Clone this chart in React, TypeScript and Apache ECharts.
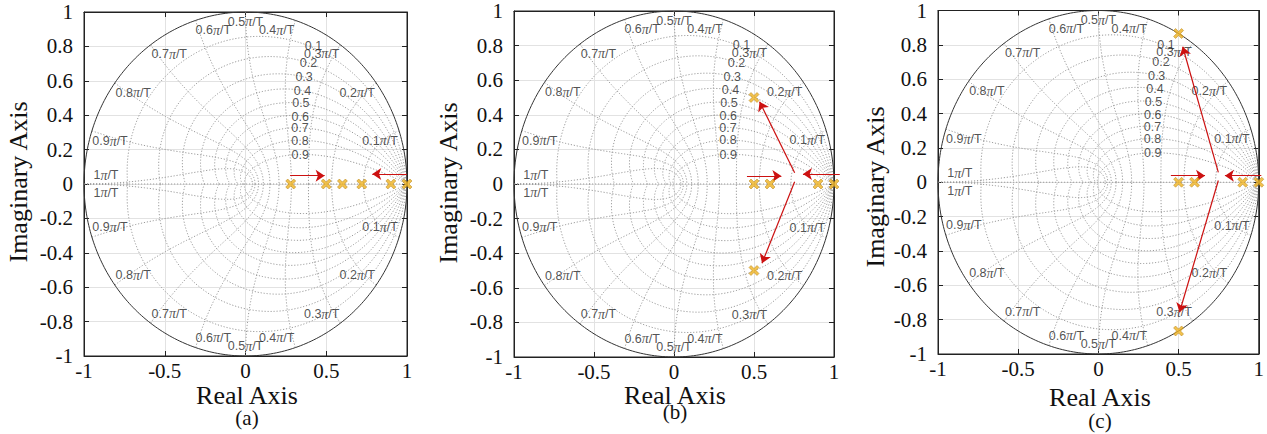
import React, { useEffect, useRef } from "react";
import * as echarts from "echarts";

// ---- axis ticks ----
const xTickInterval = 0.5;
const yTickInterval = 0.2;

// ---- z-plane grid (zgrid) definitions ----
const dampingRatios = [0.1, 0.2, 0.3, 0.4, 0.5, 0.6, 0.7, 0.8, 0.9];
const dampLabelX = [0.364, 0.333, 0.306, 0.296, 0.286, 0.282, 0.28, 0.28, 0.282];
const dampLabelY = [0.802, 0.702, 0.62, 0.542, 0.469, 0.391, 0.324, 0.252, 0.169];

const natFreqs = [0.1, 0.2, 0.3, 0.4, 0.5, 0.6, 0.7, 0.8, 0.9, 1];
const freqLabelText = ["0.1", "0.2", "0.3", "0.4", "0.5", "0.6", "0.7", "0.8", "0.9", "1"];
const freqLabelX = [0.833, 0.692, 0.472, 0.193, 0.0, -0.199, -0.472, -0.695, -0.839, -0.864];
const freqLabelY = [0.252, 0.531, 0.756, 0.895, 0.944, 0.895, 0.754, 0.531, 0.25, 0.052];

// ---- poles (a), (b), (c) ----
const polesAX = [0.28, 0.5, 0.6, 0.72, 0.9, 1.0];
const polesAY = [0, 0, 0, 0, 0, 0];
const polesBX = [0.5, 0.5, 0.5, 0.6, 0.9, 1.0];
const polesBY = [0.5, -0.5, 0, 0, 0, 0];
const polesCX = [0.5, 0.5, 0.5, 0.6, 0.9, 1.0];
const polesCY = [0.866, -0.866, 0, 0, 0, 0];

// ---- arrows [x1, y1, x2, y2] ----
const arrowsA = [
  [0.276, 0.048, 0.49, 0.048],
  [1.0, 0.058, 0.785, 0.058],
];
const arrowsB = [
  [0.456, 0.046, 0.671, 0.046],
  [1.036, 0.058, 0.806, 0.058],
  [0.754, 0.065, 0.535, 0.476],
  [0.754, 0.013, 0.55, -0.458],
];
const arrowsC = [
  [0.452, 0.038, 0.665, 0.038],
  [1.016, 0.038, 0.789, 0.038],
  [0.748, 0.057, 0.526, 0.789],
  [0.748, 0.01, 0.506, -0.757],
];

const panelLabels = ["(a)", "(b)", "(c)"];

const SERIF = "Liberation Serif";
const SANS = "Liberation Sans";

const boxes = [
  { left: 84, top: 12, width: 323, height: 344 },
  { left: 514, top: 11, width: 320, height: 346 },
  { left: 938, top: 6, width: 323, height: 348 },
];
const titlePos = [
  { ix: 18, iy: 182, rx: 247, ry: 395, px: 247, py: 418 },
  { ix: 448, iy: 183, rx: 675, ry: 395, px: 675, py: 412 },
  { ix: 875, iy: 187, rx: 1100, ry: 397, px: 1100, py: 421 },
];

function zgridCurves() {
  const curves: number[][][] = [];
  dampingRatios.forEach((z) => {
    const m = z / Math.sqrt(1 - z * z);
    [1, -1].forEach((sgn) => {
      const pts: number[][] = [];
      const N = 240;
      for (let i = 0; i <= N; i++) {
        const phi = (Math.PI * i) / N;
        const r = Math.exp(-m * phi);
        pts.push([r * Math.cos(phi), sgn * r * Math.sin(phi)]);
      }
      curves.push(pts);
    });
  });
  natFreqs.forEach((k) => {
    [1, -1].forEach((sgn) => {
      const pts: number[][] = [];
      const N = 120;
      for (let i = 0; i <= N; i++) {
        const z = i / N;
        const r = Math.exp(-z * k * Math.PI);
        const th = k * Math.PI * Math.sqrt(1 - z * z);
        pts.push([r * Math.cos(th), sgn * r * Math.sin(th)]);
      }
      curves.push(pts);
    });
  });
  curves.push([[-1, 0], [1, 0]]);
  return curves;
}

function unitCircle() {
  const pts: number[][] = [];
  const N = 360;
  for (let i = 0; i <= N; i++) {
    const a = (2 * Math.PI * i) / N;
    pts.push([Math.cos(a), Math.sin(a)]);
  }
  return pts;
}

const xPath = "path://M0,2 L2,0 L5,3 L8,0 L10,2 L7,5 L10,8 L8,10 L5,7 L2,10 L0,8 L3,5 Z";

export default function App() {
  const ref = useRef<HTMLDivElement>(null);
  useEffect(() => {
    if (!ref.current) return;
    const chart = echarts.init(ref.current, undefined, { renderer: "svg" });
    const polesX = [polesAX, polesBX, polesCX];
    const polesY = [polesAY, polesBY, polesCY];
    const arrows = [arrowsA, arrowsB, arrowsC];
    const grid: any[] = [];
    const xAxis: any[] = [];
    const yAxis: any[] = [];
    const series: any[] = [];
    const graphic: any[] = [];
    const curves = zgridCurves();
    const circle = unitCircle();

    boxes.forEach((b, i) => {
      grid.push({ ...b, show: true, borderColor: "#222", borderWidth: 1, backgroundColor: "#fff" });
      const tickStyle = { inside: true, length: 5, lineStyle: { color: "#222" } };
      xAxis.push({
        gridIndex: i, type: "value", min: -1, max: 1, interval: xTickInterval, position: "bottom",
        axisLine: { show: true, onZero: false, lineStyle: { color: "#222" } },
        axisTick: tickStyle,
        axisLabel: { fontFamily: SERIF, fontSize: 21, color: "#111", margin: 4, formatter: (v: number) => String(+v.toFixed(1)) },
        splitLine: { show: true, lineStyle: { color: "#e2e2e2", width: 1 } },
      });
      xAxis.push({
        gridIndex: i, type: "value", min: -1, max: 1, interval: xTickInterval, position: "top",
        axisLine: { show: true, onZero: false, lineStyle: { color: "#222" } },
        axisTick: tickStyle, axisLabel: { show: false }, splitLine: { show: false },
      });
      yAxis.push({
        gridIndex: i, type: "value", min: -1, max: 1, interval: yTickInterval, position: "left",
        axisLine: { show: true, onZero: false, lineStyle: { color: "#222" } },
        axisTick: tickStyle,
        axisLabel: { fontFamily: SERIF, fontSize: 21, color: "#111", margin: 11, formatter: (v: number) => String(+v.toFixed(1)) },
        splitLine: { show: true, lineStyle: { color: "#e2e2e2", width: 1 } },
      });
      yAxis.push({
        gridIndex: i, type: "value", min: -1, max: 1, interval: yTickInterval, position: "right",
        axisLine: { show: true, onZero: false, lineStyle: { color: "#222" } },
        axisTick: tickStyle, axisLabel: { show: false }, splitLine: { show: false },
      });
      const xi = 2 * i;
      const yi = 2 * i;
      series.push({
        type: "lines", coordinateSystem: "cartesian2d", xAxisIndex: xi, yAxisIndex: yi,
        polyline: true, silent: true, z: 2,
        lineStyle: { color: "#9a9a9a", width: 1, type: [1.2, 1.8], opacity: 1 },
        data: curves.map((c) => ({ coords: c })),
      });
      series.push({
        type: "lines", coordinateSystem: "cartesian2d", xAxisIndex: xi, yAxisIndex: yi,
        polyline: true, silent: true, z: 3,
        lineStyle: { color: "#333", width: 1, opacity: 1 },
        data: [{ coords: circle }],
      });
      series.push({
        type: "scatter", xAxisIndex: xi, yAxisIndex: yi, silent: true, z: 4,
        symbolSize: 1, itemStyle: { color: "rgba(0,0,0,0)" },
        label: {
          show: true, position: "right", distance: 0, fontFamily: SANS, fontSize: 12.5, color: "#262626",
          formatter: (p: any) => String(p.value[2]),
        },
        data: dampingRatios.map((z, j) => [dampLabelX[j], dampLabelY[j], z]),
      });
      const freqData: any[] = [];
      natFreqs.forEach((k, j) => {
        freqData.push([freqLabelX[j], freqLabelY[j], freqLabelText[j]]);
        freqData.push([freqLabelX[j], -freqLabelY[j], freqLabelText[j]]);
      });
      series.push({
        type: "scatter", xAxisIndex: xi, yAxisIndex: yi, silent: true, z: 4,
        symbolSize: 1, itemStyle: { color: "rgba(0,0,0,0)" },
        label: {
          show: true, position: "inside", fontFamily: SANS, fontSize: 12.5, color: "#262626",
          formatter: (p: any) => p.value[2] + "{p|π}/T",
          rich: { p: { fontFamily: SERIF, fontStyle: "italic", fontSize: 14, color: "#262626" } },
        },
        data: freqData,
      });
      series.push({
        type: "lines", coordinateSystem: "cartesian2d", xAxisIndex: xi, yAxisIndex: yi,
        silent: true, z: 6, clip: false,
        symbol: ["none", "arrow"], symbolSize: 9,
        lineStyle: { color: "#cc1111", width: 1.2, opacity: 1, curveness: 0 },
        itemStyle: { color: "#cc1111" },
        data: arrows[i].map((a) => ({ coords: [[a[0], a[1]], [a[2], a[3]]] })),
      });
      series.push({
        type: "scatter", xAxisIndex: xi, yAxisIndex: yi, silent: true, z: 7, clip: false,
        symbol: xPath, symbolSize: 10,
        itemStyle: { color: "#EDB120", borderColor: "#b07d10", borderWidth: 0.6 },
        data: polesX[i].map((x, j) => [x, polesY[i][j]]),
      });

      const t = titlePos[i];
      graphic.push({
        type: "text", x: t.ix, y: t.iy, rotation: Math.PI / 2, silent: true,
        style: { text: "Imaginary Axis", fontFamily: SERIF, fontSize: 26, fill: "#111", align: "center", verticalAlign: "middle" },
      });
      graphic.push({
        type: "text", x: t.rx, y: t.ry, silent: true,
        style: { text: "Real Axis", fontFamily: SERIF, fontSize: 26, fill: "#111", align: "center", verticalAlign: "middle" },
      });
      graphic.push({
        type: "text", x: t.px, y: t.py, silent: true,
        style: { text: panelLabels[i], fontFamily: SERIF, fontSize: 21, fill: "#111", align: "center", verticalAlign: "middle" },
      });
    });

    chart.setOption({
      animation: false,
      backgroundColor: "#fff",
      textStyle: { fontFamily: SANS },
      grid, xAxis, yAxis, series, graphic,
    });
    return () => chart.dispose();
  }, []);
  return <div ref={ref} style={{ position: "absolute", left: 0, top: 0, width: 1267, height: 434 }} />;
}
